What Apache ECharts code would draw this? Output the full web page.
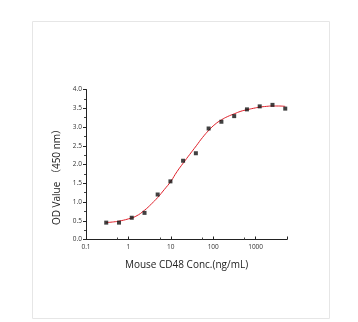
<!DOCTYPE html>
<html><head><meta charset="utf-8">
<script src="https://cdn.jsdelivr.net/npm/echarts@6/dist/echarts.min.js"></script>
<style>html,body{margin:0;padding:0;background:#fff}#c{width:358px;height:322px}</style>
</head><body><div id="c"></div>
<script>
const concentrations = [0.3, 0.6, 1.2, 2.4, 4.9, 9.8, 19.5, 39, 78, 156, 312.5, 625, 1250, 2500, 5000];
const odValues = [0.45, 0.45, 0.58, 0.71, 1.20, 1.55, 2.10, 2.30, 2.96, 3.14, 3.29, 3.47, 3.55, 3.59, 3.49];
const curveX = [0.3, 0.45, 0.6, 1, 1.5, 2.4, 3.5, 4.9, 7, 10, 14, 20, 28, 40, 56, 80, 110, 156, 220, 312, 450, 625, 900, 1250, 1800, 2500, 3500, 5000];
const curveY = [0.45, 0.47, 0.49, 0.55, 0.62, 0.78, 0.95, 1.12, 1.33, 1.55, 1.81, 2.05, 2.27, 2.50, 2.72, 2.92, 3.07, 3.19, 3.28, 3.35, 3.42, 3.46, 3.50, 3.53, 3.55, 3.56, 3.56, 3.55];
const xTitle = 'Mouse CD48 Conc.(ng/mL)';
const yTitle = 'OD Value （450 nm）';

const chart = echarts.init(document.getElementById('c'), null, {renderer: 'canvas'});
const font = '"Open Sans", "Noto Sans CJK SC", sans-serif';
chart.setOption({
  animation: false,
  backgroundColor: '#fff',
  graphic: [{type: 'rect', shape: {x: 32.5, y: 21.5, width: 297, height: 297}, style: {fill: 'none', stroke: '#e6e6e6', lineWidth: 1}}],
  grid: {left: 86, right: 71, top: 89.5, bottom: 82.5},
  xAxis: {
    type: 'log', logBase: 10, min: 0.1, max: 5500,
    name: xTitle, nameLocation: 'middle', nameGap: 21,
    nameTextStyle: {fontFamily: font, fontSize: 10, color: '#222'},
    axisLine: {lineStyle: {color: '#222', width: 1}},
    axisTick: {inside: true, length: 3, lineStyle: {color: '#222'}},
    minorTick: {show: true, splitNumber: 2, length: 2, lineStyle: {color: '#444'}},
    axisLabel: {fontFamily: font, fontSize: 6.5, color: '#333', margin: 4, showMaxLabel: false,
      formatter: v => (v < 1 ? String(v) : String(Math.round(v)))},
    splitLine: {show: false}
  },
  yAxis: {
    type: 'value', min: 0, max: 4, interval: 0.5,
    name: yTitle, nameLocation: 'middle', nameGap: 15,
    nameTextStyle: {fontFamily: font, fontSize: 10, color: '#222', padding: [0, 20, 0, 0]},
    axisLine: {show: true, lineStyle: {color: '#222', width: 1}},
    axisTick: {show: true, length: 3, lineStyle: {color: '#222'}},
    minorTick: {show: true, splitNumber: 2, length: 2, lineStyle: {color: '#444'}},
    axisLabel: {fontFamily: font, fontSize: 6.5, color: '#333', margin: 4, formatter: v => v.toFixed(1)},
    splitLine: {show: false}
  },
  series: [
    {type: 'line', data: curveX.map((x, i) => [x, curveY[i]]), smooth: true, showSymbol: false,
     lineStyle: {color: '#e0202a', width: 1}, z: 2},
    {type: 'scatter', data: concentrations.map((x, i) => [x, odValues[i]]), symbol: 'rect', symbolSize: 4,
     itemStyle: {color: '#111'}, z: 3}
  ]
});
</script></body></html>
